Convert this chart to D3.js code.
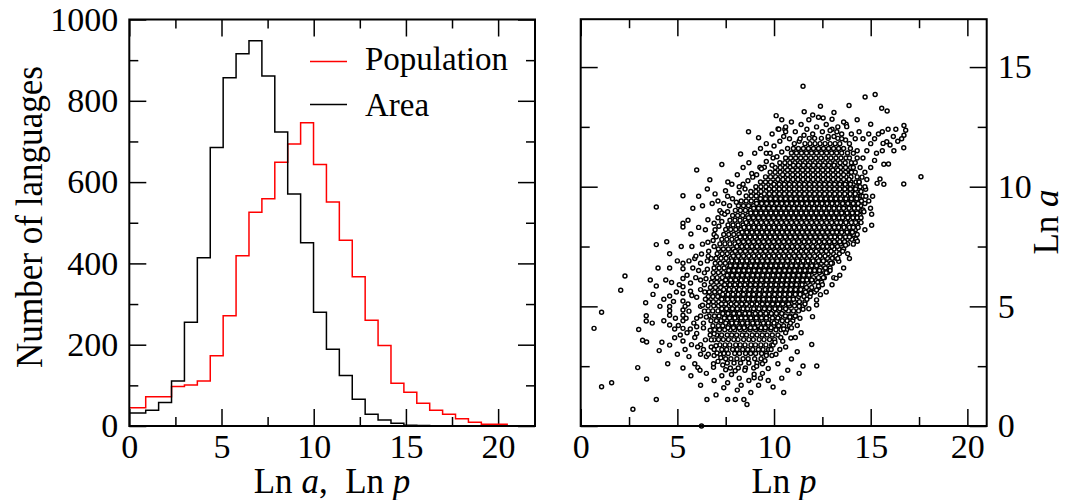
<!DOCTYPE html>
<html><head><meta charset="utf-8">
<script src="https://cdn.jsdelivr.net/npm/d3@7"></script>
<style>
html,body{margin:0;padding:0;background:#fff;}
svg text{font-family:"Liberation Serif","Times New Roman",serif;fill:#000;}
</style>
</head><body>
<svg id="chart" width="1065" height="500"></svg>
<script>
// ---------- data ----------
// histogram bins: first bin starts at axis, then regular bins
const binFirstEdge = 0;
const binStart = 0.89;
const binWidth = 0.70;
const areaCounts = [32,39,58,111,255,414,685,857,916,948,861,723,571,451,280,189,124,66,29,15,7,2,1];
const popCounts  = [45,72,72,97,101,111,173,271,419,526,559,649,694,746,643,551,457,367,260,198,105,83,56,39,29,18,9,4,4];
const legendLabels = ["Population","Area"];
const histXTicks = [0,5,10,15,20];
const histXMinor = [2.5,7.5,12.5,17.5];
const histYTicks = [0,200,400,600,800,1000];
const histYMinor = [100,300,500,700,900];
const scatXTicks = [0,5,10,15,20];
const scatXMinor = [2.5,7.5,12.5,17.5];
const scatYTicks = [0,5,10,15];
const scatYMinor = [2.5,7.5,12.5];

// scatter: dense core, rows "ln a | ln p values"
const scatterCoreRows = [
"2.42|7.74 8.15 8.52 8.95",
"2.63|7.58 7.93 8.27 8.7 9.12",
"2.81|7.5 7.77 8.08 8.4 8.66 9.0 9.33",
"3.03|7.41 7.63 7.97 8.21 8.53 8.79 9.05 9.36 9.6",
"3.2|7.3 7.55 7.86 8.09 8.38 8.64 8.9 9.19 9.43 9.72",
"3.39|7.2 7.47 7.71 8.02 8.25 8.5 8.81 9.04 9.32 9.58 9.88",
"3.61|7.13 7.38 7.64 7.92 8.14 8.43 8.7 8.93 9.23 9.48 9.77 10.03",
"3.8|7.04 7.29 7.58 7.81 8.07 8.35 8.58 8.87 9.12 9.39 9.64 9.91 10.2",
"4.02|6.93 7.18 7.45 7.74 7.97 8.26 8.51 8.77 9.05 9.3 9.54 9.83 10.1 10.36 10.65",
"4.19|6.84 7.12 7.35 7.64 7.89 8.13 8.42 8.66 8.94 9.19 9.47 9.71 9.98 10.24 10.5 10.8",
"4.4|6.74 7.02 7.26 7.55 7.79 8.07 8.3 8.6 8.84 9.1 9.38 9.61 9.9 10.15 10.43 10.68 10.97",
"4.6|6.64 6.92 7.16 7.45 7.7 7.96 8.24 8.47 8.75 9.01 9.28 9.52 9.8 10.06 10.31 10.59 10.84 11.12",
"4.81|6.6 6.83 7.1 7.36 7.62 7.87 8.15 8.38 8.66 8.93 9.17 9.45 9.7 9.96 10.23 10.48 10.75 11.01 11.27",
"5.02|6.59 6.88 7.13 7.4 7.66 7.93 8.19 8.44 8.71 8.97 9.24 9.5 9.76 10.02 10.29 10.54 10.8 11.06 11.33 11.5",
"5.19|6.62 6.86 7.14 7.38 7.66 7.91 8.16 8.44 8.68 8.95 9.21 9.47 9.74 9.99 10.26 10.52 10.78 11.05 11.31 11.6",
"5.41|6.6 6.84 7.09 7.35 7.61 7.88 8.13 8.4 8.66 8.92 9.18 9.44 9.71 9.97 10.23 10.5 10.76 11.02 11.28 11.55 11.86",
"5.6|6.65 6.93 7.19 7.45 7.7 7.97 8.23 8.49 8.75 9.02 9.27 9.54 9.8 10.06 10.32 10.58 10.84 11.1 11.37 11.63 11.9 12.1",
"5.79|6.71 6.97 7.24 7.5 7.76 8.02 8.28 8.55 8.81 9.06 9.33 9.59 9.85 10.11 10.37 10.64 10.9 11.16 11.42 11.68 11.95 12.3",
"6.01|6.76 7.03 7.28 7.55 7.8 8.07 8.33 8.59 8.86 9.11 9.38 9.64 9.9 10.16 10.43 10.69 10.95 11.21 11.47 11.74 12.0 12.26 12.46",
"6.2|6.82 7.06 7.33 7.6 7.85 8.12 8.37 8.64 8.9 9.16 9.42 9.69 9.95 10.21 10.47 10.73 11.0 11.26 11.52 11.78 12.04 12.3 12.6",
"6.41|6.86 7.12 7.38 7.64 7.9 8.17 8.43 8.69 8.95 9.21 9.47 9.73 10.0 10.26 10.52 10.78 11.04 11.31 11.57 11.83 12.09 12.35 12.62 12.78",
"6.6|6.9 7.16 7.42 7.69 7.95 8.21 8.47 8.73 9.0 9.26 9.52 9.78 10.04 10.3 10.57 10.83 11.09 11.35 11.61 11.88 12.14 12.4 12.66 12.9",
"6.8|6.96 7.22 7.48 7.74 8.0 8.26 8.52 8.78 9.05 9.31 9.57 9.83 10.09 10.35 10.61 10.88 11.14 11.4 11.66 11.92 12.18 12.45 12.71 13.02",
"7.01|7.0 7.26 7.52 7.79 8.05 8.31 8.57 8.83 9.09 9.35 9.62 9.88 10.14 10.4 10.66 10.92 11.19 11.45 11.71 11.97 12.23 12.5 12.76 13.02 13.22",
"7.2|7.06 7.32 7.58 7.84 8.1 8.36 8.62 8.88 9.14 9.4 9.67 9.93 10.19 10.45 10.71 10.97 11.24 11.5 11.76 12.02 12.28 12.54 12.8 13.07 13.38",
"7.4|7.12 7.38 7.64 7.9 8.16 8.42 8.68 8.94 9.2 9.46 9.72 9.98 10.24 10.5 10.76 11.02 11.28 11.54 11.8 12.06 12.32 12.58 12.84 13.1 13.36 13.6",
"7.61|7.2 7.46 7.72 7.98 8.24 8.5 8.76 9.02 9.28 9.54 9.8 10.06 10.32 10.58 10.84 11.1 11.36 11.62 11.88 12.14 12.4 12.66 12.92 13.18 13.44 13.8",
"7.8|7.3 7.56 7.82 8.08 8.34 8.6 8.86 9.12 9.38 9.64 9.9 10.16 10.42 10.68 10.94 11.2 11.46 11.72 11.98 12.24 12.5 12.76 13.02 13.28 13.54 13.8 14.02",
"8.0|7.4 7.66 7.92 8.18 8.44 8.7 8.96 9.22 9.48 9.74 10.0 10.26 10.52 10.78 11.04 11.3 11.56 11.82 12.08 12.34 12.6 12.86 13.12 13.38 13.64 13.9 14.12",
"8.21|7.5 7.76 8.02 8.28 8.54 8.8 9.06 9.32 9.58 9.84 10.1 10.36 10.62 10.88 11.14 11.4 11.66 11.92 12.18 12.44 12.7 12.96 13.22 13.48 13.74 14.0 14.22",
"8.4|7.62 7.88 8.14 8.4 8.66 8.92 9.18 9.44 9.7 9.96 10.22 10.48 10.74 11.0 11.26 11.52 11.78 12.04 12.3 12.56 12.82 13.08 13.34 13.6 13.86 14.12 14.3",
"8.6|7.72 7.98 8.24 8.5 8.76 9.02 9.28 9.54 9.8 10.06 10.32 10.58 10.84 11.1 11.36 11.62 11.88 12.14 12.4 12.66 12.92 13.18 13.44 13.7 13.96 14.2 14.42",
"8.8|7.86 8.12 8.38 8.64 8.9 9.16 9.42 9.68 9.94 10.2 10.46 10.72 10.98 11.24 11.5 11.76 12.02 12.28 12.54 12.8 13.06 13.32 13.58 13.84 14.1 14.45",
"9.01|8.0 8.26 8.52 8.78 9.04 9.3 9.56 9.82 10.08 10.34 10.6 10.86 11.12 11.38 11.64 11.9 12.16 12.42 12.68 12.94 13.2 13.46 13.72 13.98 14.24 14.5",
"9.2|8.16 8.42 8.68 8.94 9.2 9.46 9.72 9.98 10.24 10.5 10.76 11.02 11.28 11.54 11.8 12.06 12.32 12.58 12.84 13.1 13.36 13.62 13.88 14.14 14.48",
"9.4|8.3 8.56 8.82 9.08 9.34 9.6 9.86 10.12 10.38 10.64 10.9 11.16 11.42 11.68 11.94 12.2 12.46 12.72 12.98 13.24 13.5 13.76 14.02 14.28 14.52",
"9.61|8.56 8.82 9.08 9.34 9.6 9.86 10.12 10.38 10.64 10.9 11.16 11.42 11.68 11.94 12.2 12.46 12.72 12.98 13.24 13.5 13.76 14.02 14.28 14.5",
"9.8|8.8 9.06 9.32 9.58 9.84 10.1 10.36 10.62 10.88 11.14 11.4 11.66 11.92 12.18 12.44 12.7 12.96 13.22 13.48 13.74 14.0 14.26 14.5",
"10.0|9.06 9.32 9.58 9.84 10.1 10.36 10.62 10.88 11.14 11.4 11.66 11.92 12.18 12.44 12.7 12.96 13.22 13.48 13.74 14.0 14.26 14.45",
"10.2|9.3 9.56 9.82 10.08 10.34 10.6 10.86 11.12 11.38 11.64 11.9 12.16 12.42 12.68 12.94 13.2 13.46 13.72 13.98 14.24 14.4",
"10.41|9.56 9.82 10.08 10.34 10.6 10.86 11.12 11.38 11.64 11.9 12.16 12.42 12.68 12.94 13.2 13.46 13.72 13.98 14.3",
"10.6|9.8 10.06 10.32 10.58 10.84 11.1 11.36 11.62 11.88 12.14 12.4 12.66 12.92 13.18 13.44 13.7 13.96 14.2",
"10.8|10.06 10.32 10.58 10.84 11.1 11.36 11.62 11.88 12.14 12.4 12.66 12.92 13.18 13.44 13.7 13.96 14.1",
"11.0|10.3 10.56 10.82 11.08 11.34 11.6 11.86 12.12 12.38 12.64 12.9 13.16 13.42 13.68 14.0",
"11.2|10.6 10.86 11.12 11.38 11.64 11.9 12.16 12.42 12.68 12.94 13.2 13.46 13.72 13.9",
"11.41|10.9 11.16 11.42 11.68 11.94 12.2 12.46 12.72 12.98 13.24 13.5 13.8",
"11.6|11.26 11.52 11.78 12.04 12.3 12.56 12.82 13.08 13.34 13.6",
"11.8|11.6 11.86 12.12 12.38 12.64 12.9 13.16 13.4",
"12.02|11.82 12.1 12.45 12.8 13.3"
];
// scatter: densest centre, interleaved rows "ln a | ln p values"
const scatterCentreRows = [
"4.11|7.62 7.9 8.2 8.45 8.78 9.0 9.33 9.55 9.85",
"4.3|7.5 7.82 8.05 8.36 8.62 8.9 9.14 9.45 9.7 10.0",
"4.51|7.43 7.7 7.98 8.3 8.53 8.8 9.08 9.35 9.6 9.92 10.2",
"4.7|7.35 7.62 7.92 8.2 8.5 8.72 9.03 9.3 9.58 9.86 10.12 10.4",
"4.9|7.3 7.55 7.85 8.1 8.4 8.63 8.95 9.22 9.5 9.76 10.05 10.3 10.6",
"5.1|7.28 7.5 7.78 8.06 8.33 8.58 8.86 9.12 9.4 9.66 9.93 10.2 10.45 10.75",
"5.3|7.3 7.6 7.85 8.13 8.38 8.66 8.92 9.2 9.46 9.74 10.0 10.27 10.54 10.8 11.0",
"5.5|7.35 7.62 7.88 8.15 8.42 8.7 8.95 9.23 9.5 9.75 10.03 10.3 10.56 10.82 11.1 11.35",
"5.7|7.4 7.68 7.92 8.2 8.46 8.74 9.0 9.26 9.54 9.8 10.07 10.33 10.6 10.86 11.12 11.38",
"5.9|7.45 7.72 7.98 8.25 8.5 8.78 9.04 9.3 9.58 9.84 10.1 10.38 10.64 10.9 11.16 11.45",
"6.1|7.5 7.76 8.02 8.3 8.55 8.82 9.08 9.35 9.62 9.88 10.15 10.42 10.68 10.94 11.2 11.48 11.7 11.95",
"6.3|7.58 7.84 8.1 8.36 8.62 8.9 9.15 9.42 9.68 9.95 10.22 10.48 10.74 11.0 11.27 11.53 11.8",
"6.5|7.66 7.92 8.18 8.44 8.7 8.97 9.23 9.5 9.76 10.02 10.28 10.55 10.8 11.07 11.34 11.6 11.86 12.1 12.35",
"6.7|7.74 8.0 8.26 8.52 8.8 9.05 9.31 9.58 9.84 10.1 10.36 10.63 10.9 11.15 11.42 11.68 11.95 12.2",
"6.9|7.82 8.08 8.35 8.6 8.88 9.13 9.4 9.66 9.92 10.18 10.44 10.7 10.97 11.23 11.5 11.76 12.02 12.3 12.55",
"7.1|7.9 8.16 8.43 8.7 8.96 9.22 9.48 9.74 10.0 10.26 10.52 10.78 11.05 11.31 11.57 11.84 12.1 12.38 12.64",
"7.3|8.0 8.26 8.52 8.78 9.04 9.3 9.56 9.82 10.08 10.34 10.6 10.86 11.13 11.4 11.66 11.92 12.18 12.45 12.7 12.95",
"7.5|8.08 8.34 8.6 8.86 9.12 9.38 9.64 9.9 10.16 10.42 10.68 10.94 11.2 11.47 11.73 12.0 12.26 12.52 12.75 13.0 13.28",
"7.7|8.16 8.42 8.68 8.94 9.2 9.46 9.72 9.98 10.24 10.5 10.76 11.02 11.28 11.55 11.8 12.06 12.33 12.6 12.86 13.12 13.4 13.65",
"7.9|8.25 8.5 8.76 9.02 9.28 9.54 9.8 10.06 10.32 10.58 10.84 11.1 11.36 11.62 11.88 12.14 12.4 12.66 12.93 13.15 13.42 13.7",
"8.1|8.35 8.6 8.86 9.12 9.38 9.64 9.9 10.16 10.42 10.68 10.94 11.2 11.46 11.72 11.98 12.24 12.5 12.76 13.02 13.25 13.5 13.78 14.0",
"8.3|8.45 8.7 8.96 9.22 9.48 9.74 10.0 10.26 10.52 10.78 11.04 11.3 11.56 11.82 12.08 12.34 12.6 12.86 13.12 13.35 13.62 13.9 14.1",
"8.5|8.56 8.82 9.08 9.34 9.6 9.86 10.12 10.38 10.64 10.9 11.16 11.42 11.68 11.94 12.2 12.46 12.72 12.98 13.24 13.45 13.72 14.0 14.22",
"8.7|8.68 8.94 9.2 9.46 9.72 9.98 10.24 10.5 10.76 11.02 11.28 11.54 11.8 12.06 12.32 12.58 12.84 13.1 13.36 13.55 13.82 14.08 14.3",
"8.9|8.8 9.06 9.32 9.58 9.84 10.1 10.36 10.62 10.88 11.14 11.4 11.66 11.92 12.18 12.44 12.7 12.96 13.22 13.5 13.78 14.05 14.3",
"9.1|8.95 9.2 9.46 9.72 9.98 10.24 10.5 10.76 11.02 11.28 11.54 11.8 12.06 12.32 12.58 12.84 13.1 13.36 13.6 13.88 14.15 14.35",
"9.3|9.1 9.36 9.62 9.88 10.14 10.4 10.66 10.92 11.18 11.44 11.7 11.96 12.22 12.48 12.74 13.0 13.26 13.55 13.82 14.1 14.35",
"9.5|9.3 9.56 9.82 10.08 10.34 10.6 10.86 11.12 11.38 11.64 11.9 12.16 12.42 12.68 12.94 13.2 13.45 13.72 14.0 14.28",
"9.7|9.5 9.76 10.02 10.28 10.54 10.8 11.06 11.32 11.58 11.84 12.1 12.36 12.62 12.88 13.14 13.4 13.66 13.94 14.2",
"9.9|9.75 10.01 10.27 10.53 10.79 11.05 11.31 11.57 11.83 12.09 12.35 12.61 12.87 13.13 13.4 13.66 13.95 14.22",
"10.1|10.0 10.27 10.53 10.79 11.05 11.31 11.57 11.83 12.09 12.35 12.61 12.87 13.13 13.4 13.68 13.95",
"10.3|10.2 10.46 10.72 10.98 11.24 11.5 11.76 12.02 12.28 12.54 12.8 13.06 13.32 13.6 13.88",
"10.5|10.45 10.7 10.97 11.23 11.5 11.76 12.02 12.28 12.54 12.8 13.06 13.32 13.6",
"10.7|10.7 10.96 11.22 11.48 11.74 12.0 12.26 12.52 12.78 13.04 13.3",
"10.9|11.0 11.26 11.52 11.78 12.04 12.3 12.56 12.82 13.1"
];
// scatter: sparse outer points "ln p,ln a"
const scatterOuter = (
"0.69,4.08 1.08,4.75 1.08,1.64 1.6,1.81 2.7,0.7 2.07,5.67 2.29,6.27 2.95,2.44 3.0,4.03 3.2,3.58 3.41,3.51 3.36,5.15 3.39,4.61 3.39,4.39 3.41,1.96 3.74,5.5 3.91,5.85 3.91,7.58 3.91,9.15 3.91,1.11 4.06,3.15 " +
"4.6,7.2 4.6,6.6 4.6,5.43 4.6,4.99 4.6,4.82 4.6,4.63 4.6,4.22 4.6,3.38 4.86,4.05 4.86,3.69 " +
"5.29,9.62 5.29,8.47 5.29,8.32 5.29,6.8 5.29,6.57 5.29,6.16 5.29,5.82 5.29,5.54 5.29,5.22 5.29,4.85 5.29,4.63 5.29,4.4 5.29,4.08 5.29,3.55 5.29,2.42 " +
"5.7,8.02 5.7,2.1 5.68,5.98 5.68,5.63 5.75,5.45 5.67,4.05 5.73,3.4 5.5,6.3 5.55,5.1 5.45,4.5 5.6,4.8 5.8,6.6 5.9,7.0 5.85,4.3 5.9,3.7 5.5,3.9 5.1,5.9 5.05,4.2 4.95,5.6 5.0,6.9 4.3,4.4 4.4,6.1 4.2,3.5 4.1,5.0 3.7,4.3 5.4,3.2 5.0,3.0 4.5,2.6 " +
"6.0,5.38 6.0,4.5 6.0,4.15 6.0,3.87 5.96,7.1 6.25,7.19 6.06,2.44 6.17,2.33 6.25,0.0 6.53,1.11 6.58,7.68 6.68,10.29 6.87,2.45 6.87,2.6 " +
"6.2,6.8 6.2,6.1 6.2,5.7 6.2,5.0 6.2,4.6 6.2,3.4 6.2,3.0 6.4,6.4 6.4,5.9 6.45,5.3 6.4,4.8 6.35,4.1 6.45,3.6 6.35,3.2 6.5,2.9 6.6,7.1 6.55,6.9 6.7,3.8 6.75,3.3 6.6,3.0 6.1,8.3 6.3,7.6 6.58,8.62 6.9,8.47 6.9,8.0 6.9,7.5 6.9,3.6 6.9,3.2 6.9,2.95 7.01,7.91 7.1,8.7 7.2,9.0 7.3,8.9 7.49,9.83 7.61,10.2 7.82,10.1 7.4,9.3 7.6,9.6 7.7,9.2 7.1,9.4 6.95,9.7 6.3,9.2 6.8,9.3 " +
"7.3,10.93 8.27,11.37 8.68,12.3 9.2,12.05 9.27,10.81 9.5,10.81 9.6,11.4 9.95,11.2 9.8,11.4 8.1,10.5 8.4,10.8 8.7,11.0 8.9,10.4 8.2,10.0 8.5,9.9 9.0,11.4 9.3,11.6 9.6,11.8 10.0,11.7 10.3,11.9 10.5,12.1 10.8,12.0 11.0,11.6 11.3,11.9 11.1,12.3 11.4,12.6 11.7,12.4 12.0,12.2 11.8,12.8 12.2,12.5 12.5,12.3 12.7,12.6 13.0,12.4 13.3,12.5 13.5,12.2 13.1,12.1 12.8,12.1 12.3,12.9 10.9,12.7 10.4,12.8 9.9,12.2 " +
"10.11,12.97 10.21,12.41 10.25,12.4 10.56,12.4 10.6,12.5 10.6,12.3 11.5,14.2 11.56,13.13 12.4,13.36 12.54,12.87 13.0,12.82 13.88,13.39 14.71,13.75 15.23,13.85 15.57,13.28 15.85,13.16 13.73,12.61 13.76,12.51 15.0,12.61 16.72,12.56 16.81,12.36 16.72,12.15 16.71,11.63 16.17,12.1 16.0,11.74 15.83,11.88 15.64,11.81 17.6,10.42 16.71,10.11 15.92,10.95 15.68,10.94 15.68,10.1 15.33,10.14 15.48,10.32 14.74,9.89 14.99,9.1 15.05,8.85 15.05,8.39 14.6,9.03 " +
"14.6,11.2 14.8,11.5 15.0,11.8 15.2,12.0 15.4,12.2 14.9,12.2 15.6,12.3 15.3,11.4 14.7,10.6 15.0,10.8 15.2,11.1 14.6,12.0 14.4,12.3 14.2,12.0 14.0,12.2 13.9,11.8 14.3,11.5 15.9,12.4 16.3,12.4 15.6,11.5 14.4,10.2 14.8,10.3 15.1,9.6 14.6,9.6 14.9,9.4 14.5,8.5 14.7,8.2 14.3,8.0 14.1,7.6 13.9,7.0 13.6,6.6 13.4,6.3 13.0,5.9 12.7,5.6 12.9,6.5 13.2,7.1 14.0,10.6 14.2,11.0 13.6,12.7 14.3,12.8 16.4,11.9 16.6,12.0 16.2,11.5 13.1,13.1 12.0,13.0 " +
"13.81,7.2 14.24,7.81 14.31,7.72 13.09,6.2 13.21,6.17 13.35,6.88 11.99,4.57 11.95,3.41 11.5,2.51 12.21,2.51 10.71,2.33 10.45,3.54 10.87,3.68 9.89,2.95 9.53,2.73 9.95,3.38 12.2,5.68 12.2,5.27 12.2,5.06 12.4,5.49 11.34,4.5 11.5,4.88 11.02,4.54 10.82,4.55 11.2,4.2 10.9,4.1 11.6,5.1 11.8,4.9 12.5,5.9 10.6,3.9 10.3,3.2 10.1,3.0 10.6,3.3 11.1,3.7 11.4,3.9 10.2,2.6 9.7,2.4 9.4,2.2 9.1,2.5 9.95,1.63 " +
"7.6,1.81 7.6,1.11 8.0,1.11 8.44,1.11 7.99,2.31 8.97,2.02 8.97,2.16 8.49,2.33 7.3,2.1 7.1,2.7 7.2,3.0 8.2,2.0 8.7,1.9 9.3,2.0 7.8,2.15 8.3,1.7 " +
"6.35,4.3 6.5,4.55 6.3,5.05 6.42,5.6 6.48,6.15 6.55,6.55 6.62,7.3 6.75,7.0 6.85,7.75 6.95,8.2 7.15,8.35 7.3,8.55 7.45,8.85 7.6,8.95 7.85,9.5 8.05,9.35 8.2,9.75 8.4,10.1 8.65,10.25 8.85,10.55 9.1,10.5 9.35,10.75 9.6,11.05 9.9,10.9 10.15,11.25 10.4,11.45 10.7,11.6 11.05,11.8 11.35,12.0 11.55,12.15 6.7,4.0 6.75,3.6 6.9,3.85 7.0,3.35 7.05,3.05 7.25,2.85 7.35,2.55 7.5,2.35 " +
"9.4,2.6 9.6,2.95 9.85,3.2 10.05,3.5 10.35,3.7 10.5,4.05 10.85,4.3 11.1,4.6 11.3,5.0 11.7,5.3 11.9,5.55 12.3,5.85 12.55,6.2 12.7,6.4 12.95,6.8 13.3,7.0 13.55,7.3 13.7,7.55 13.9,7.9 14.05,8.1 14.35,8.3 14.5,8.7 14.65,8.95 14.7,9.3 14.75,9.6 14.7,10.0 14.55,10.4 14.45,10.8 14.3,11.2 14.1,11.4 13.95,11.6 13.7,11.95 13.5,12.0 13.25,12.3 12.9,12.35 " +
"6.9,1.9 7.4,1.6 8.1,1.5 8.8,1.4 9.2,1.7 9.7,1.9 10.4,2.0 10.9,2.8 11.2,3.1 6.5,2.2 6.2,1.7 5.9,2.6 5.6,2.9 7.0,1.3 8.6,0.9 10.5,1.4 11.3,2.2 " +
"4.8,5.2 4.9,4.5 5.15,3.8 5.4,5.0 5.6,6.9 5.75,7.5 5.95,6.2 6.1,6.5 6.05,3.3 5.2,7.5 4.7,6.0 4.3,5.3 3.6,6.1 4.0,6.6 4.45,7.7 5.55,8.6 6.1,9.6 5.8,9.1 6.45,8.2 6.55,9.9 6.0,10.7"
);

// ---------- parse ----------
const scatterPoints = [];
function addRows(rows) {
  rows.forEach(r => {
    const [yStr, xs] = r.split("|");
    const y = +yStr;
    xs.trim().split(/\s+/).forEach(x => scatterPoints.push([+x, y]));
  });
}
addRows(scatterCoreRows);
addRows(scatterCentreRows);
scatterOuter.trim().split(/\s+/).forEach(p => {
  const [x, y] = p.split(",").map(Number);
  scatterPoints.push([x, y]);
});

// ---------- layout ----------
const svg = d3.select("#chart");
const FONT = '"Liberation Serif","Times New Roman",serif';
const L = {x0:129.3, x1:535, y0:19.5, y1:426};
const R = {x0:580.7, x1:986.7, y0:19.2, y1:426};

const xL = d3.scaleLinear().domain([0,22]).range([L.x0, L.x1]);
const yL = d3.scaleLinear().domain([0,1000]).range([L.y1, L.y0]);
const xR = d3.scaleLinear().domain([0,21]).range([R.x0, R.x1]);
const yR = d3.scaleLinear().domain([0,17]).range([R.y1, R.y0]);

function styleAxis(g, fs) {
  g.select(".domain").remove();
  g.selectAll("line").attr("stroke","#000").attr("stroke-width",1.5);
  g.selectAll("text").attr("font-family", FONT).attr("font-size", fs).attr("fill","#000");
}
function addAxis(axis, tx, ty, fs) {
  const g = svg.append("g").attr("transform", `translate(${tx},${ty})`).call(axis);
  styleAxis(g, fs);
  return g;
}
const MAJ = 17, MIN = 9, TFS = 34;

// ----- left panel axes -----
addAxis(d3.axisBottom(xL).tickValues(histXTicks).tickSize(-MAJ).tickPadding(8).tickFormat(d3.format("d")), 0, L.y1, TFS);
addAxis(d3.axisBottom(xL).tickValues(histXMinor).tickSize(-MIN).tickFormat(""), 0, L.y1, TFS);
addAxis(d3.axisTop(xL).tickValues(histXTicks).tickSize(-MAJ).tickFormat(""), 0, L.y0, TFS);
addAxis(d3.axisTop(xL).tickValues(histXMinor).tickSize(-MIN).tickFormat(""), 0, L.y0, TFS);
addAxis(d3.axisLeft(yL).tickValues(histYTicks).tickSize(-MAJ).tickPadding(11).tickFormat(d3.format("d")), L.x0, 0, TFS);
addAxis(d3.axisLeft(yL).tickValues(histYMinor).tickSize(-MIN).tickFormat(""), L.x0, 0, TFS);
addAxis(d3.axisRight(yL).tickValues(histYTicks).tickSize(-MAJ).tickFormat(""), L.x1, 0, TFS);
addAxis(d3.axisRight(yL).tickValues(histYMinor).tickSize(-MIN).tickFormat(""), L.x1, 0, TFS);

// ----- histograms -----
function stepPath(counts) {
  const edges = [binFirstEdge];
  for (let i = 0; i < counts.length; i++) edges.push(binStart + i * binWidth);
  const pts = [];
  counts.forEach((c, i) => { pts.push([edges[i], c]); pts.push([edges[i+1], c]); });
  pts.push([edges[counts.length], 0]);
  return d3.line().x(d => xL(d[0])).y(d => yL(d[1]))(pts);
}
svg.append("path").attr("d", stepPath(popCounts)).attr("fill","none").attr("stroke","#ff0000").attr("stroke-width",1.5);
svg.append("path").attr("d", stepPath(areaCounts)).attr("fill","none").attr("stroke","#000").attr("stroke-width",1.5);

// ----- legend -----
const legColors = ["#ff0000","#000"];
const legY = [61.5, 104.5];
const legBase = [69.5, 116];
legendLabels.forEach((lab, i) => {
  svg.append("line").attr("x1",310).attr("x2",347).attr("y1",legY[i]).attr("y2",legY[i])
    .attr("stroke", legColors[i]).attr("stroke-width",1.5);
  svg.append("text").attr("x",365).attr("y",legBase[i]).attr("font-size",33).text(lab);
});

// ----- left titles -----
const t1 = svg.append("text").attr("x",332).attr("y",493).attr("text-anchor","middle").attr("font-size",35);
t1.append("tspan").text("Ln ");
t1.append("tspan").attr("font-style","italic").text("a");
t1.append("tspan").text(",\u00a0\u00a0Ln ");
t1.append("tspan").attr("font-style","italic").text("p");

svg.append("text").attr("transform","translate(41.5,217) rotate(-90)")
  .attr("text-anchor","middle").attr("font-size",37)
  .attr("textLength",302).attr("lengthAdjust","spacingAndGlyphs")
  .text("Number of languages");

// ----- right panel axes -----
addAxis(d3.axisBottom(xR).tickValues(scatXTicks).tickSize(-MAJ).tickPadding(8).tickFormat(d3.format("d")), 0, R.y1, TFS);
addAxis(d3.axisBottom(xR).tickValues(scatXMinor).tickSize(-MIN).tickFormat(""), 0, R.y1, TFS);
addAxis(d3.axisTop(xR).tickValues(scatXTicks).tickSize(-MAJ).tickFormat(""), 0, R.y0, TFS);
addAxis(d3.axisTop(xR).tickValues(scatXMinor).tickSize(-MIN).tickFormat(""), 0, R.y0, TFS);
addAxis(d3.axisRight(yR).tickValues(scatYTicks).tickSize(-MAJ).tickPadding(11).tickFormat(d3.format("d")), R.x1, 0, TFS);
addAxis(d3.axisRight(yR).tickValues(scatYMinor).tickSize(-MIN).tickFormat(""), R.x1, 0, TFS);
addAxis(d3.axisLeft(yR).tickValues(scatYTicks).tickSize(-MAJ).tickFormat(""), R.x0, 0, TFS);
addAxis(d3.axisLeft(yR).tickValues(scatYMinor).tickSize(-MIN).tickFormat(""), R.x0, 0, TFS);

// ----- scatter -----
svg.append("g").selectAll("circle").data(scatterPoints).join("circle")
  .attr("cx", d => xR(d[0])).attr("cy", d => yR(d[1])).attr("r", 2.0)
  .attr("fill","#fff").attr("stroke","#000").attr("stroke-width",1.45);

// ----- right titles -----
const t2 = svg.append("text").attr("x",784).attr("y",493).attr("text-anchor","middle").attr("font-size",35);
t2.append("tspan").text("Ln ");
t2.append("tspan").attr("font-style","italic").text("p");

const t3 = svg.append("text").attr("transform","translate(1058,222) rotate(-90)")
  .attr("text-anchor","middle").attr("font-size",35);
t3.append("tspan").text("Ln ");
t3.append("tspan").attr("font-style","italic").text("a");

// ----- frames -----
[L, R].forEach(P => {
  svg.append("rect").attr("x",P.x0).attr("y",P.y0).attr("width",P.x1-P.x0).attr("height",P.y1-P.y0)
    .attr("fill","none").attr("stroke","#000").attr("stroke-width",2);
});
</script>
</body></html>
